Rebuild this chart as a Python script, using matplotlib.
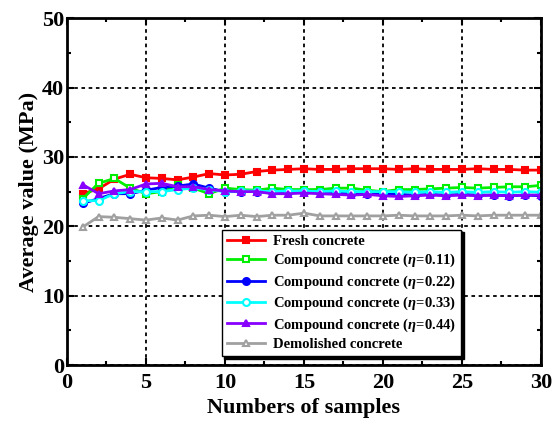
import matplotlib
matplotlib.use("Agg")
import matplotlib.pyplot as plt
from matplotlib.ticker import MultipleLocator
import numpy as np

plt.rcParams['font.family'] = ['Liberation Serif', 'DejaVu Serif']
plt.rcParams['font.weight'] = 'bold'
plt.rcParams['mathtext.fontset'] = 'custom'
plt.rcParams['mathtext.it'] = 'Liberation Serif:italic:bold'
plt.rcParams['mathtext.rm'] = 'Liberation Serif:bold'

samples = np.arange(1, 31)

fresh = [24.7, 25.4, 26.8, 27.5, 27.0, 26.9, 26.7, 27.1, 27.6, 27.4,
         27.5, 27.9, 28.1, 28.2, 28.3, 28.2, 28.2, 28.3, 28.3, 28.3,
         28.2, 28.3, 28.2, 28.2, 28.2, 28.3, 28.2, 28.2, 28.1, 28.1]
eta011 = [24.0, 26.2, 26.9, 25.5, 24.7, 25.0, 25.9, 25.5, 24.7, 25.5,
          25.3, 25.2, 25.5, 25.3, 25.3, 25.3, 25.5, 25.5, 25.2, 25.0,
          25.3, 25.3, 25.4, 25.5, 25.6, 25.5, 25.6, 25.7, 25.7, 25.9]
eta022 = [23.3, 24.0, 24.7, 24.7, 25.2, 25.6, 25.8, 26.1, 25.5, 25.0,
          25.0, 25.0, 24.9, 25.0, 25.0, 24.9, 24.8, 24.7, 24.6, 24.7,
          24.6, 24.5, 24.6, 24.5, 24.6, 24.5, 24.5, 24.4, 24.5, 24.4]
eta033 = [23.7, 23.7, 24.7, 25.0, 25.0, 25.0, 25.3, 25.5, 25.3, 25.0,
          25.1, 25.1, 25.0, 25.1, 25.1, 25.0, 25.1, 25.0, 25.0, 25.0,
          25.0, 24.9, 25.0, 24.9, 25.0, 24.9, 25.0, 24.9, 25.0, 24.9]
eta044 = [26.0, 24.7, 25.1, 25.3, 26.1, 26.2, 25.7, 25.7, 25.3, 25.1,
          25.0, 25.0, 24.7, 24.7, 24.8, 24.7, 24.6, 24.5, 24.6, 24.4,
          24.3, 24.4, 24.5, 24.4, 24.5, 24.4, 24.5, 24.4, 24.5, 24.5]
demolished = [19.9, 21.4, 21.3, 21.1, 20.9, 21.2, 20.9, 21.5, 21.6, 21.4,
              21.6, 21.4, 21.6, 21.6, 21.9, 21.5, 21.5, 21.5, 21.5, 21.5,
              21.6, 21.5, 21.5, 21.5, 21.6, 21.5, 21.6, 21.6, 21.6, 21.6]

labels = ['Fresh concrete',
          r'Compound concrete ($\eta$=0.11)',
          r'Compound concrete ($\eta$=0.22)',
          r'Compound concrete ($\eta$=0.33)',
          r'Compound concrete ($\eta$=0.44)',
          'Demolished concrete']
series = [fresh, eta011, eta022, eta033, eta044, demolished]
colors = ['#ff0000', '#00ee00', '#0000ff', '#00ffff', '#8800ff', '#a0a0a0']
markers = ['s', 's', 'o', 'o', '^', '^']
faces = ['#ff0000', 'white', '#0000ff', 'white', '#8800ff', 'white']

fig = plt.figure(figsize=(5.56, 4.23), dpi=100)
ax = fig.add_axes([0.1205, 0.137, 0.8525, 0.82])

for y, lab, c, m, fc in zip(series, labels, colors, markers, faces):
    ax.plot(samples, y, color=c, marker=m, markerfacecolor=fc,
            markeredgecolor=c, markeredgewidth=1.5, markersize=5,
            linewidth=2, label=lab)

ax.set_xlim(0, 30)
ax.set_ylim(0, 50)
ax.xaxis.set_major_locator(MultipleLocator(5))
ax.xaxis.set_minor_locator(MultipleLocator(2.5))
ax.yaxis.set_major_locator(MultipleLocator(10))
ax.yaxis.set_minor_locator(MultipleLocator(5))
ax.tick_params(which='both', direction='in', top=True, right=True,
               width=1.5, labelsize=16)
ax.tick_params(axis='x', pad=6)
ax.tick_params(axis='y', pad=2)
ax.tick_params(which='major', length=5)
ax.tick_params(which='minor', length=3)
for s in ax.spines.values():
    s.set_linewidth(2)

ax.grid(True, which='major', color='black', linestyle=(0, (2, 2)), linewidth=1.3)

ax.set_xlabel('Numbers of samples', fontsize=16, fontweight='bold', labelpad=3)
ax.set_ylabel('Average value (MPa)', fontsize=16, fontweight='bold', labelpad=2)

leg = ax.legend(loc='lower left', bbox_to_anchor=(0.326, 0.026), fontsize=10.5,
                frameon=True, fancybox=False, edgecolor='black',
                framealpha=1, handlelength=2.6, labelspacing=0.28,
                borderpad=0.35, borderaxespad=0, handletextpad=0.6,
                shadow={'facecolor': 'black', 'edgecolor': 'black', 'alpha': 1})
leg.get_frame().set_linewidth(1.0)

fig.savefig('out.png', dpi=100)
